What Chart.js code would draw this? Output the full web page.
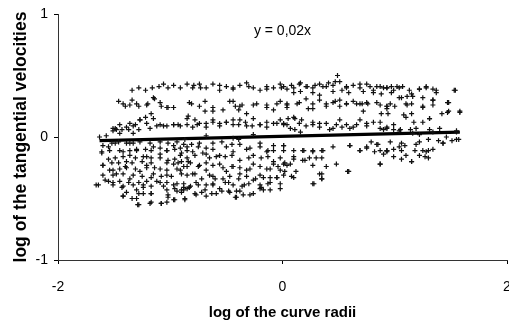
<!DOCTYPE html>
<html>
<head>
<meta charset="utf-8">
<script src="https://cdn.jsdelivr.net/npm/chart.js@4/dist/chart.umd.min.js"></script>
<style>
  html, body { margin:0; padding:0; background:#fff; }
  #wrap { width:509px; height:327px; }
</style>
</head>
<body>
<div id="wrap"><canvas id="c" width="509" height="327"></canvas></div>
<script>
// scatter values (log radius, log velocity), first pass by rows
const radiiLog = [
  -1.34,-1.28,-1.22,-1.16,-1.10,-1.06,-1.02,-0.97,-0.91,-0.85,-0.80,-0.74,-0.68,-0.62,-0.56,-0.50,-0.44,-0.38,-0.32,-0.26,-0.20,-0.14,-0.08,-0.02,0.04,0.10,0.15,0.21,0.27,0.33,0.39,0.45,0.49,0.51,0.57,0.63,0.69,0.75,0.81,0.87,0.93,0.99,1.04,1.13,1.22,1.28,1.37,1.53,
  -1.46,-1.40,-1.34,-1.30,-1.21,-1.15,-1.09,-1.03,-0.97,-0.83,-0.74,-0.62,-0.44,-0.38,-0.26,-0.14,-0.05,0.04,0.15,0.21,0.27,0.33,0.39,0.45,0.51,0.57,0.63,0.69,0.75,0.84,0.93,1.04,1.10,1.16,1.25,1.34,1.47,1.58,
  -1.49,-1.45,-1.39,-1.33,-1.27,-1.21,-1.15,-1.09,-1.03,-0.97,-0.91,-0.85,-0.80,-0.74,-0.68,-0.62,-0.56,-0.50,-0.44,-0.38,-0.32,-0.26,-0.20,-0.14,-0.08,-0.02,0.04,0.10,0.15,0.21,0.27,0.33,0.39,0.45,0.51,0.57,0.63,0.69,0.75,0.81,0.87,0.93,0.99,1.04,1.10,1.19,1.31,1.40,1.47,1.55,
  -1.63,-1.57,-1.51,-1.45,-1.33,-0.68,-0.44,-0.26,1.16,1.22,1.34,1.46,
  -1.61,-1.55,-1.49,-1.42,-1.36,-1.30,-1.24,-1.15,-1.09,-1.03,-0.97,-0.91,-0.85,-0.80,-0.74,-0.68,-0.62,-0.56,-0.50,-0.44,-0.38,-0.32,-0.26,-0.20,-0.14,-0.08,0.01,0.10,0.18,0.27,0.36,0.60,0.69,0.75,0.84,0.93,0.99,1.04,1.10,1.19,1.28,1.34,1.43,1.55,
  -1.60,-1.54,-1.48,-1.40,-1.34,-1.27,-1.21,-1.15,-1.09,-1.03,-0.97,-0.91,-0.85,-0.80,-0.74,-0.68,-0.62,-0.56,-0.50,-0.44,-0.38,-0.32,-0.26,-0.20,-0.14,-0.08,-0.02,0.04,0.10,0.18,0.27,0.33,0.39,0.48,0.58,0.87,0.99,1.15,1.27,
  -1.66,-1.58,-1.51,-1.43,-1.37,-1.30,-1.24,-1.17,-1.09,-1.03,-0.97,-0.90,-0.83,-0.77,-0.69,-0.62,-0.56,-0.48,-0.41,-0.34,-0.26,-0.19,-0.11,-0.05,0.28,0.35,
  -1.42,-1.34,-1.29,-1.24,-1.17,-1.08,-1.02,-0.96,-0.87,-0.77,-0.68,-0.59,-0.48,-0.42,-0.35,-0.26,-0.17
];
const velocityLog = [
  0.38,0.40,0.38,0.40,0.41,0.43,0.40,0.42,0.40,0.43,0.40,0.43,0.40,0.43,0.38,0.41,0.39,0.42,0.44,0.40,0.38,0.41,0.40,0.43,0.39,0.40,0.43,0.41,0.40,0.43,0.41,0.42,0.50,0.45,0.40,0.42,0.40,0.43,0.38,0.41,0.40,0.38,0.40,0.38,0.39,0.40,0.38,0.38,
  0.29,0.25,0.30,0.27,0.26,0.32,0.28,0.24,0.24,0.28,0.25,0.24,0.29,0.25,0.26,0.24,0.27,0.24,0.28,0.31,0.27,0.30,0.25,0.28,0.30,0.27,0.29,0.27,0.28,0.28,0.25,0.32,0.27,0.33,0.24,0.30,0.28,0.20,
  0.07,0.10,0.08,0.09,0.14,0.11,0.15,0.10,0.09,0.10,0.09,0.15,0.08,0.11,0.08,0.12,0.09,0.12,0.10,0.14,0.09,0.15,0.10,0.08,0.11,0.14,0.10,0.16,0.11,0.09,0.12,0.08,0.11,0.07,0.14,0.10,0.08,0.14,0.09,0.12,0.07,0.08,0.10,0.05,0.16,0.07,0.15,0.07,0.20,0.05,
  0.00,0.01,0.05,0.03,0.03,0.01,-0.01,0.02,0.03,0.02,0.04,0.00,
  -0.13,-0.08,-0.05,-0.12,-0.05,-0.10,-0.16,-0.08,-0.14,-0.11,-0.07,-0.15,-0.08,-0.12,-0.05,-0.14,-0.10,-0.15,-0.08,-0.12,-0.06,-0.10,-0.15,-0.08,-0.12,-0.07,-0.11,-0.16,-0.11,-0.12,-0.11,-0.07,-0.11,-0.08,-0.06,-0.12,-0.10,-0.08,-0.15,-0.06,-0.12,-0.10,-0.05,-0.02,
  -0.23,-0.27,-0.30,-0.24,-0.21,-0.28,-0.23,-0.30,-0.26,-0.31,-0.22,-0.27,-0.24,-0.30,-0.23,-0.27,-0.32,-0.22,-0.28,-0.24,-0.30,-0.27,-0.22,-0.31,-0.26,-0.22,-0.27,-0.23,-0.33,-0.19,-0.23,-0.30,-0.24,-0.22,-0.28,-0.22,-0.16,-0.20,-0.16,
  -0.39,-0.35,-0.37,-0.41,-0.37,-0.43,-0.39,-0.46,-0.37,-0.43,-0.39,-0.45,-0.41,-0.37,-0.43,-0.39,-0.42,-0.37,-0.44,-0.39,-0.35,-0.41,-0.37,-0.33,-0.38,-0.34,
  -0.48,-0.50,-0.55,-0.46,-0.53,-0.54,-0.49,-0.51,-0.51,-0.47,-0.48,-0.46,-0.44,-0.49,-0.47,-0.46,-0.43
];

const radiiMore = [
  -1.42,-1.36,-1.28,-1.20,-1.14,-1.08,-1.02,-1.17,-1.22,-1.27,-1.36,-1.31,-1.51,-1.48,-1.43,-1.37,-1.28,-1.18,-1.12,-1.06,-0.97,-0.93,-0.85,
  -0.81,-0.69,-0.69,-0.62,-0.53,-0.47,-0.42,-0.39,-0.36,-0.32,-0.23,-0.14,-0.08,-0.02,0.04,-0.84,-0.78,-0.76,-0.68,-0.62,-0.56,-0.50,-0.44,-0.39,-0.33,-0.27,-0.20,-0.14,-0.05,0.01,
  -0.79,-0.73,-0.56,-0.44,-0.30,-0.14,-0.01,
  0.01,0.08,0.16,0.22,0.29,0.36,0.41,0.47,0.57,0.69,0.78,0.84,0.90,0.10,0.16,0.27,0.33,0.45,0.53,0.59,0.72,0.81,0.88,
  0.04,0.13,0.23,0.27,0.39,0.47,0.51,0.57,0.66,0.71,0.76,0.72,0.87,0.93,0.05,0.11,0.17,0.01,0.07,0.11,0.16,0.27,0.33,0.42,0.48,0.53,0.60,0.66,0.75,0.87,0.93,
  0.93,0.97,0.97,1.02,1.07,1.22,1.28,1.34,1.37,1.54,1.06,1.11,1.15,1.25,1.34,0.93,0.96,1.00,1.11,1.15,1.25,1.34,1.48,1.42,1.48,1.58,0.88,0.94,1.08,1.15,1.31,1.17,1.25,0.90,0.99,1.05,1.14,1.31,1.55,
  -1.60,-1.52,-1.46,-1.39,-1.33,-1.27,-1.18,-1.09,-1.02,-0.94,-0.88,-1.61,-1.54,-1.45,-1.36,-1.30,-1.22,-1.17,-1.09,-1.03,-0.96,-0.91,-0.85,
  -1.55,-1.49,-1.42,-1.36,-1.31,-1.21,-1.17,-1.09,-1.02,-0.96,-0.90,-0.84,-1.60,-1.52,-1.46,-1.39,-1.25,-1.17,-1.03,-0.93,
  -1.51,-1.45,-1.39,-1.31,-1.21,-1.14,-1.03,-0.94,-1.60,-1.51,-1.42,-1.33,-1.25,-1.17,-1.08,-0.99,-0.90,
  -1.55,-1.45,-1.36,-1.28,-1.21,-1.12,-1.03,-0.94,-1.64,-1.51,-1.42,-1.33,-1.24,-1.17,-1.06,-0.96,-0.88,
  -1.39,-1.28,-1.17,-1.02,-0.94,-0.88,-1.42,-1.30,-1.28,-1.18,-1.08,-1.03,-0.97,
  -0.87,-0.81,-0.75,-0.68,-0.62,-0.54,-0.45,-0.39,-0.29,-0.20,-0.13,-0.08,0.01,-0.90,-0.85,-0.78,-0.71,-0.65,-0.59,-0.51,-0.45,-0.38,-0.30,-0.19,-0.13,-0.08,-0.02,
  -0.88,-0.82,-0.75,-0.68,-0.62,-0.53,-0.45,-0.38,-0.29,-0.20,-0.11,-0.04,0.02,-0.85,-0.78,-0.72,-0.65,-0.60,-0.53,-0.47,-0.39,-0.32,-0.24,-0.17,-0.11,-0.05,0.01,
  -0.88,-0.82,-0.75,-0.68,-0.62,-0.51,-0.44,-0.36,-0.30,-0.20,-0.13,-0.02,-0.90,-0.85,-0.78,-0.72,-0.63,-0.54,-0.47,-0.38,-0.29,-0.20,-0.11,-0.87,-0.41,-0.02,
  0.01,0.10,0.19,0.27,0.35,0.45,0.60,0.69,0.75,0.82,0.87,0.93,0.10,0.20,0.24,0.30,0.35,0.01,0.07,0.02,0.12,0.08,0.35,0.35,0.59,0.27,0.79,0.85,0.90,
  0.96,1.06,1.09,1.22,1.30,1.39,1.43,1.51,1.57,0.93,1.06,1.18,1.25,1.30,1.22,1.30,1.06,1.15,0.87
];
const velocityMore = [
  0.27,0.26,0.25,0.27,0.31,0.25,0.24,0.19,0.16,0.14,0.11,0.10,0.07,0.06,0.06,0.06,0.06,0.07,0.09,0.09,0.10,0.10,0.10,
  0.27,0.29,0.21,0.21,0.22,0.29,0.25,0.22,0.26,0.19,0.27,0.26,0.22,0.29,0.26,0.17,0.14,0.10,0.11,0.14,0.11,0.12,0.14,0.10,0.12,0.09,0.10,0.12,0.11,0.10,
  0.42,0.40,0.42,0.40,0.41,0.39,0.40,
  0.41,0.42,0.44,0.41,0.42,0.41,0.44,0.45,0.41,0.43,0.41,0.41,0.40,0.36,0.37,0.36,0.34,0.37,0.38,0.36,0.37,0.36,0.35,
  0.27,0.27,0.23,0.23,0.27,0.29,0.25,0.27,0.27,0.27,0.27,0.21,0.26,0.23,0.15,0.15,0.14,0.11,0.07,0.06,0.04,0.10,0.11,0.06,0.10,0.08,0.07,0.10,0.11,0.12,0.07,
  0.40,0.41,0.36,0.41,0.41,0.39,0.41,0.39,0.36,0.38,0.32,0.33,0.35,0.32,0.30,0.25,0.27,0.25,0.26,0.27,0.25,0.26,0.28,0.19,0.21,0.21,0.19,0.19,0.18,0.19,0.15,0.12,0.12,0.06,0.06,0.06,0.06,0.06,0.04,
  -0.07,-0.05,-0.04,-0.05,-0.05,-0.04,-0.05,-0.04,-0.05,-0.04,-0.06,-0.12,-0.11,-0.11,-0.11,-0.11,-0.10,-0.11,-0.09,-0.11,-0.10,-0.09,-0.11,
  -0.18,-0.17,-0.16,-0.15,-0.17,-0.16,-0.17,-0.17,-0.19,-0.18,-0.20,-0.20,-0.23,-0.21,-0.21,-0.20,-0.20,-0.21,-0.21,-0.21,
  -0.27,-0.26,-0.25,-0.26,-0.25,-0.25,-0.27,-0.26,-0.31,-0.31,-0.30,-0.31,-0.32,-0.33,-0.32,-0.32,-0.30,
  -0.36,-0.36,-0.34,-0.37,-0.36,-0.36,-0.37,-0.38,-0.39,-0.39,-0.40,-0.39,-0.41,-0.40,-0.40,-0.42,-0.41,
  -0.45,-0.46,-0.46,-0.47,-0.44,-0.43,-0.48,-0.50,-0.55,-0.54,-0.54,-0.53,-0.51,
  -0.02,-0.06,-0.08,-0.09,-0.05,-0.04,-0.06,-0.02,-0.09,-0.05,-0.11,-0.11,-0.07,-0.13,-0.17,-0.15,-0.13,-0.17,-0.16,-0.16,-0.15,-0.19,-0.17,-0.17,-0.16,-0.20,-0.17,
  -0.24,-0.21,-0.24,-0.21,-0.23,-0.25,-0.24,-0.25,-0.26,-0.24,-0.26,-0.24,-0.21,-0.31,-0.30,-0.34,-0.31,-0.34,-0.34,-0.32,-0.34,-0.32,-0.34,-0.33,-0.33,-0.33,-0.31,
  -0.38,-0.40,-0.39,-0.39,-0.38,-0.37,-0.39,-0.40,-0.38,-0.39,-0.38,-0.38,-0.43,-0.42,-0.46,-0.45,-0.46,-0.44,-0.45,-0.44,-0.47,-0.42,-0.43,-0.50,-0.49,-0.42,
  -0.07,-0.11,-0.11,-0.11,-0.11,-0.08,-0.07,-0.11,-0.09,-0.12,-0.11,-0.11,-0.18,-0.19,-0.17,-0.17,-0.17,-0.22,-0.22,-0.28,-0.28,-0.32,-0.30,-0.34,-0.28,-0.38,-0.04,-0.06,-0.14,
  -0.04,-0.05,-0.07,-0.04,-0.02,-0.03,-0.05,-0.03,-0.02,-0.11,-0.11,-0.11,-0.11,-0.11,-0.15,-0.17,-0.18,-0.20,-0.22
];

// trendline y = 0,02x drawn across the data range
const trendX = [-1.63, 1.58];
const trendY = [-0.03, 0.04];
const equationText = 'y = 0,02x';

const xTicks = [-2, 0, 2];
const yTicks = [-1, 0, 1];

const fontFamily = "'Liberation Sans Narrow', 'Liberation Sans', Arial, sans-serif";
const tickFont = { family: fontFamily, size: 14 };

const points = radiiLog.concat(radiiMore).map((x, i) => ({ x, y: velocityLog.concat(velocityMore)[i] }));
const trend = trendX.map((x, i) => ({ x, y: trendY[i] }));

const equationLabel = {
  id: 'equationLabel',
  afterDraw(chart) {
    const { ctx, scales } = chart;
    ctx.save();
    ctx.font = "14px " + fontFamily;
    ctx.fillStyle = '#000';
    ctx.textAlign = 'center';
    ctx.textBaseline = 'middle';
    ctx.fillText(equationText, scales.x.getPixelForValue(0), scales.y.getPixelForValue(0.86));
    ctx.restore();
  }
};

new Chart(document.getElementById('c'), {
  type: 'scatter',
  data: {
    datasets: [
      {
        label: 'points',
        data: points,
        pointStyle: 'cross',
        pointRadius: 2.5,
        pointBorderWidth: 1.2,
        borderColor: '#111',
        backgroundColor: '#111'
      },
      {
        type: 'line',
        label: 'trend',
        data: trend,
        borderColor: '#000',
        borderWidth: 3.3,
        pointRadius: 0,
        fill: false
      }
    ]
  },
  plugins: [equationLabel],
  options: {
    responsive: false,
    animation: false,
    layout: { autoPadding: false, padding: { top: 14, right: 2, left: 0, bottom: 0 } },
    plugins: { legend: { display: false }, tooltip: { enabled: false } },
    scales: {
      x: {
        type: 'linear', min: -2, max: 2,
        afterBuildTicks: s => { s.ticks = xTicks.map(v => ({ value: v })); },
        afterFit: s => { s.height = 67; s.paddingLeft = 0; s.paddingRight = 0; },
        grid: { display: true, drawOnChartArea: false, drawTicks: true, tickLength: 4, color: '#000' },
        border: { color: '#333', width: 1 },
        ticks: { color: '#000', font: tickFont, padding: 15, maxRotation: 0 },
        title: { display: true, text: 'log of the curve radii', color: '#000', font: { family: fontFamily, size: 15, weight: 'bold' }, padding: { top: 0, bottom: 5 } }
      },
      y: {
        type: 'linear', min: -1, max: 1,
        afterBuildTicks: s => { s.ticks = yTicks.map(v => ({ value: v })); },
        afterFit: s => { s.width = 58; s.paddingTop = 0; s.paddingBottom = 0; },
        grid: { display: true, drawOnChartArea: false, drawTicks: true, tickLength: 4, color: '#000' },
        border: { color: '#333', width: 1 },
        ticks: { color: '#000', font: tickFont, padding: 6 },
        title: { display: true, text: 'log of the tangential velocities', color: '#000', font: { family: fontFamily, size: 17.5, weight: 'bold' }, padding: { top: 11, bottom: 0 } }
      }
    }
  }
});
</script>
</body>
</html>
